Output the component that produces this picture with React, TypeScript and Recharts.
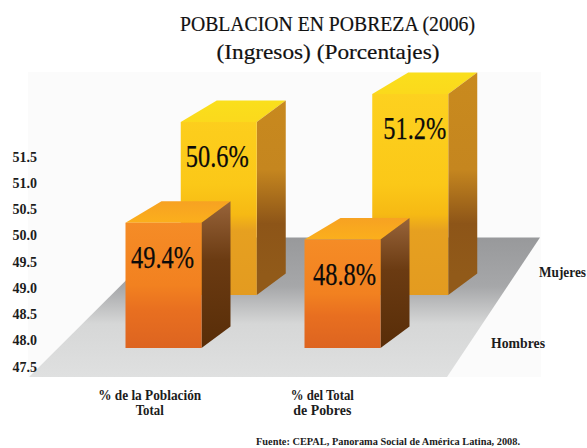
import React from 'react';
import { BarChart, Bar, XAxis, YAxis, Customized } from 'recharts';

const CATEGORIES = ['% de la Población|Total', '% del Total|de Pobres'];
const HOMBRES = [49.4, 48.8];
const MUJERES = [50.6, 51.2];
const TICKS = [47.5, 48, 48.5, 49, 49.5, 50, 50.5, 51, 51.5];

const TABLE = CATEGORIES.map((category, i) => ({
  category,
  hombres: HOMBRES[i],
  mujeres: MUJERES[i],
}));

const SERIF = '"Liberation Serif", serif';
const INK = '#1c1c1c';

// the original is a fake 3D plate, so each row of bars sits at its own depth
const Block = ({ x, y, width, height, value, name, lift, index, nudge }: any) => {
  const top = y - lift;
  const bottom = top + height;
  const right = x + width;
  const depthY = 21.5;
  return (
    <g>
      <polygon
        points={`${x},${top} ${right},${top} ${right + 29},${top - depthY} ${x + 36},${top - depthY}`}
        fill={`url(#${name}-top)`}
      />
      <polygon
        points={`${right},${top} ${right + 29},${top - depthY} ${right + 29},${bottom - depthY} ${right},${bottom}`}
        fill={`url(#${name}-side)`}
      />
      <rect x={x} y={top} width={width} height={height} fill={`url(#${name}-front)`} />
      <text
        x={x + width / 2 + nudge[index]}
        y={top + 45}
        textAnchor="middle"
        textLength={63}
        lengthAdjust="spacingAndGlyphs"
        fontFamily={SERIF}
        fontSize={31}
        stroke="#0a0a0a"
        strokeWidth={0.25}
        fill="#0a0a0a"
      >
        {`${value.toFixed(1)}%`}
      </text>
    </g>
  );
};

const CategoryTick = ({ x, y, payload }: any) => {
  const [first, second] = payload.value.split('|');
  const widths: Record<string, number> = {
    '% de la Población': 103,
    Total: 28,
    '% del Total': 63,
    'de Pobres': 58,
  };
  const lines = [first, second];
  return (
    <g>
      {lines.map((line: string, i: number) => (
        <text
          key={line}
          x={x}
          y={y + i * 15}
          textAnchor="middle"
          textLength={widths[line]}
          lengthAdjust="spacingAndGlyphs"
          fontFamily={SERIF}
          fontSize={14}
          fontWeight="bold"
          fill={INK}
        >
          {line}
        </text>
      ))}
    </g>
  );
};

const ValueTick = ({ y, payload }: any) => (
  <text
    x={37}
    y={y + 4.5}
    textAnchor="end"
    fontFamily={SERIF}
    fontSize={14}
    fontWeight="bold"
    fill={INK}
  >
    {payload.value.toFixed(1)}
  </text>
);

const Backdrop = () => (
  <g>
    <defs>
      <linearGradient id="floor" x1="0" y1="0" x2="0" y2="1">
        <stop offset="0" stopColor="#98999b" />
        <stop offset="0.35" stopColor="#a6a7a9" />
        <stop offset="0.62" stopColor="#d6d7d7" />
        <stop offset="1" stopColor="#dfe0e0" />
      </linearGradient>
      <linearGradient id="hombres-front" x1="0" y1="0" x2="0" y2="1">
        <stop offset="0" stopColor="#f58c26" />
        <stop offset="0.5" stopColor="#f28120" />
        <stop offset="0.7" stopColor="#e86f20" />
        <stop offset="1" stopColor="#dd6420" />
      </linearGradient>
      <linearGradient id="hombres-side" x1="0" y1="0" x2="0" y2="1">
        <stop offset="0" stopColor="#98643a" />
        <stop offset="0.4" stopColor="#6b3b12" />
        <stop offset="1" stopColor="#582d08" />
      </linearGradient>
      <linearGradient id="hombres-top" x1="0" y1="0" x2="0" y2="1">
        <stop offset="0" stopColor="#f7a222" />
        <stop offset="1" stopColor="#fbaf1c" />
      </linearGradient>
      {/* yellow shading is tied to the page, the floor shadow darkens both bars at the same height */}
      <linearGradient id="mujeres-front" gradientUnits="userSpaceOnUse" x1="0" y1="94" x2="0" y2="295">
        <stop offset="0" stopColor="#fdd11f" />
        <stop offset="0.45" stopColor="#fbc818" />
        <stop offset="0.6" stopColor="#f6b914" />
        <stop offset="0.68" stopColor="#e6a020" />
        <stop offset="1" stopColor="#e39b20" />
      </linearGradient>
      <linearGradient id="mujeres-side" gradientUnits="userSpaceOnUse" x1="0" y1="73" x2="0" y2="274">
        <stop offset="0" stopColor="#c98a1e" />
        <stop offset="0.48" stopColor="#c5861f" />
        <stop offset="0.75" stopColor="#8d5518" />
        <stop offset="1" stopColor="#915a19" />
      </linearGradient>
      <linearGradient id="mujeres-top" x1="0" y1="0" x2="0" y2="1">
        <stop offset="0" stopColor="#fadf1c" />
        <stop offset="1" stopColor="#fbd91c" />
      </linearGradient>
    </defs>
    <rect x={28} y={72} width={513} height={305} fill="#fbfbfb" />
    <polygon points="29,377 169,237.5 540,237.5 447,377" fill="url(#floor)" />
  </g>
);

export default function App() {
  return (
    <div
      style={{
        position: 'absolute',
        left: 0,
        top: 0,
        width: 587,
        height: 448,
        background: '#fff',
        overflow: 'hidden',
      }}
    >
      <BarChart
        width={587}
        height={448}
        data={TABLE}
        barSize={76}
        margin={{ top: 52, right: 46, bottom: 0, left: 0 }}
      >
        <Customized component={Backdrop} />

        <XAxis
          xAxisId="labels"
          dataKey="category"
          height={81}
          padding={{ left: 25.4, right: 132.4 }}
          axisLine={false}
          tickLine={false}
          interval={0}
          tick={(props: any) => <CategoryTick {...props} y={399.5} />}
        />
        <XAxis xAxisId="front" dataKey="category" hide padding={{ left: 35.5, right: 109.5 }} />
        <XAxis xAxisId="back" dataKey="category" hide padding={{ left: 84.75, right: 35.25 }} />

        <YAxis
          yAxisId="labels"
          width={38}
          type="number"
          domain={[47.5, 53.5]}
          ticks={TICKS}
          interval={0}
          axisLine={false}
          tickLine={false}
          tick={(props: any) => <ValueTick {...props} />}
        />
        {/* each row has its own foreshortening */}
        <YAxis yAxisId="front" hide type="number" domain={[44.925, 56.175]} />
        <YAxis yAxisId="back" hide type="number" domain={[46.893, 53.643]} />

        {/* draws nothing, only keeps the visible axes tied to a series */}
        <Bar
          dataKey="hombres"
          xAxisId="labels"
          yAxisId="labels"
          isAnimationActive={false}
          shape={() => null}
        />
        <Bar
          dataKey="mujeres"
          xAxisId="back"
          yAxisId="back"
          isAnimationActive={false}
          shape={(props: any) => (
            <Block {...props} value={props.mujeres} name="mujeres" lift={72} nudge={[-1.5, 4.5]} />
          )}
        />
        <Bar
          dataKey="hombres"
          xAxisId="front"
          yAxisId="front"
          isAnimationActive={false}
          shape={(props: any) => (
            <Block {...props} value={props.hombres} name="hombres" lift={19} nudge={[-1, 2]} />
          )}
        />

        <text x={327.5} y={31} textAnchor="middle" textLength={295} lengthAdjust="spacingAndGlyphs" fontFamily={SERIF} fontSize={21} stroke="#111" strokeWidth={0.2} fill="#111">
          POBLACION EN POBREZA (2006)
        </text>
        <text x={328} y={59} textAnchor="middle" textLength={223} lengthAdjust="spacingAndGlyphs" fontFamily={SERIF} fontSize={21} stroke="#111" strokeWidth={0.2} fill="#111">
          (Ingresos) (Porcentajes)
        </text>
        <text x={539} y={277} textLength={47} lengthAdjust="spacingAndGlyphs" fontFamily={SERIF} fontSize={14} fontWeight="bold" fill={INK}>
          Mujeres
        </text>
        <text x={491} y={348} textLength={54} lengthAdjust="spacingAndGlyphs" fontFamily={SERIF} fontSize={14} fontWeight="bold" fill={INK}>
          Hombres
        </text>
        <text x={256} y={445} textLength={264} lengthAdjust="spacingAndGlyphs" fontFamily={SERIF} fontSize={11} fontWeight="bold" fill={INK}>
          Fuente: CEPAL, Panorama Social de América Latina, 2008.
        </text>
      </BarChart>
    </div>
  );
}
